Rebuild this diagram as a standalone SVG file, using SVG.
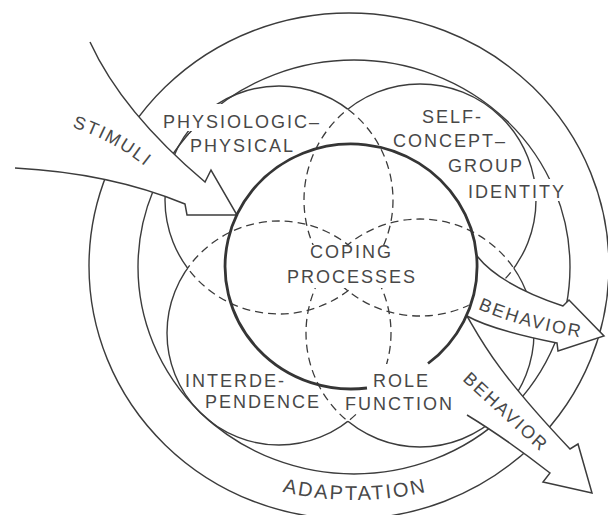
<svg xmlns="http://www.w3.org/2000/svg" width="608" height="515" viewBox="0 0 608 515">
<style>
.ln{fill:none;stroke:#3c3c3c;stroke-width:1.4}
.ds{fill:none;stroke:#3c3c3c;stroke-width:1.3;stroke-dasharray:8 5}
.thick{fill:none;stroke:#353535;stroke-width:2.8}
.arw{fill:#fff;stroke:#3c3c3c;stroke-width:1.5;stroke-linejoin:miter}
.t{font-family:"Liberation Sans",Arial,sans-serif;font-size:18px;letter-spacing:2px;fill:#484848}
.bg{fill:#fff}
</style>
<defs>
<mask id="mTL" maskUnits="userSpaceOnUse" x="0" y="0" width="608" height="515">
<rect width="608" height="515" fill="#fff"/>
<circle cx="420" cy="200" r="116"/><circle cx="279" cy="333" r="112"/><circle cx="420" cy="333" r="114"/>
</mask>
<mask id="mTR" maskUnits="userSpaceOnUse" x="0" y="0" width="608" height="515">
<rect width="608" height="515" fill="#fff"/>
<circle cx="279" cy="200" r="114"/><circle cx="279" cy="333" r="112"/><circle cx="420" cy="333" r="114"/>
</mask>
<mask id="mBL" maskUnits="userSpaceOnUse" x="0" y="0" width="608" height="515">
<rect width="608" height="515" fill="#fff"/>
<circle cx="279" cy="200" r="114"/><circle cx="420" cy="200" r="116"/><circle cx="420" cy="333" r="114"/>
</mask>
<mask id="mBR" maskUnits="userSpaceOnUse" x="0" y="0" width="608" height="515">
<rect width="608" height="515" fill="#fff"/>
<circle cx="279" cy="200" r="114"/><circle cx="420" cy="200" r="116"/><circle cx="279" cy="333" r="112"/>
</mask>
<clipPath id="kTL"><circle cx="420" cy="200" r="116"/><circle cx="279" cy="333" r="112"/><circle cx="420" cy="333" r="114"/></clipPath>
<clipPath id="kTR"><circle cx="279" cy="200" r="114"/><circle cx="279" cy="333" r="112"/><circle cx="420" cy="333" r="114"/></clipPath>
<clipPath id="kBL"><circle cx="279" cy="200" r="114"/><circle cx="420" cy="200" r="116"/><circle cx="420" cy="333" r="114"/></clipPath>
<clipPath id="kBR"><circle cx="279" cy="200" r="114"/><circle cx="420" cy="200" r="116"/><circle cx="279" cy="333" r="112"/></clipPath>
<path id="pAd" d="M 255 483.9 A 318 318 0 0 0 455 483.9"/>
<path id="pSt" d="M 72 127 Q 112 140 146 167"/>
<path id="pBe" d="M 478 309 Q 522 328 584 338"/>
</defs>

<g id="adaptation">
<ellipse class="ln" cx="349" cy="266" rx="260" ry="253"/>
<ellipse class="ln" cx="354" cy="267" rx="216" ry="207"/>
<text class="t" style="font-size:20px;letter-spacing:2.2px" text-anchor="middle"><textPath href="#pAd" startOffset="50%">ADAPTATION</textPath></text>
</g>

<g id="physiologic-physical">
<circle class="ln" cx="279" cy="200" r="114" mask="url(#mTL)"/>
<circle class="ds" cx="279" cy="200" r="114" clip-path="url(#kTL)"/>
<rect class="bg" x="161" y="104" width="160" height="27"/>
<rect class="bg" x="189" y="134" width="102" height="21"/>
<text class="t" x="163" y="128">PHYSIOLOGIC–</text>
<text class="t" x="190" y="152">PHYSICAL</text>
</g>

<g id="self-concept">
<circle class="ln" cx="420" cy="200" r="116" mask="url(#mTR)"/>
<circle class="ds" cx="420" cy="200" r="116" clip-path="url(#kTR)"/>
<rect class="bg" x="466" y="179" width="100" height="22"/>
<text class="t" x="422" y="123">SELF-</text>
<text class="t" x="393" y="147">CONCEPT–</text>
<text class="t" x="448" y="172">GROUP</text>
<text class="t" x="468" y="198">IDENTITY</text>
</g>

<g id="interdependence">
<circle class="ln" cx="279" cy="333" r="112" mask="url(#mBL)"/>
<circle class="ds" cx="279" cy="333" r="112" clip-path="url(#kBL)"/>
<rect class="bg" x="184" y="372" width="98" height="19"/>
<rect class="bg" x="204" y="391" width="113" height="21"/>
<text class="t" x="185" y="387">INTERDE-</text>
<text class="t" x="205" y="408">PENDENCE</text>
</g>

<g id="role-function">
<circle class="ln" cx="420" cy="333" r="114" mask="url(#mBR)"/>
<circle class="ds" cx="420" cy="333" r="114" clip-path="url(#kBR)"/>
<rect class="bg" x="371" y="364" width="62" height="27"/>
<rect class="bg" x="343" y="391" width="117" height="21"/>
<text class="t" x="373" y="387">ROLE</text>
<text class="t" x="345" y="410">FUNCTION</text>
</g>

<g id="connectors">
<path class="arw" d="M 90 42 Q 122 112 205 182 L 211 170 L 237 215 L 187 215 L 185 204 Q 110 173 15 168"/>
<text class="t"><textPath href="#pSt">STIMULI</textPath></text>
<path class="arw" d="M 477 256 Q 500 285 563 306 L 569 300 L 604 336 L 558 351 L 557 343 Q 492 330 467 316"/>
<text class="t"><textPath href="#pBe">BEHAVIOR</textPath></text>
<path class="arw" d="M 467 316 C 480 338 495 370 570 449 L 578 444 L 592 493 L 543 482 L 550 473 Q 505 438 467 415"/>
<text class="t" x="462" y="380" transform="rotate(42.4 462 380)">BEHAVIOR</text>
</g>

<g id="coping-processes">
<path class="thick" d="M 428 363.5 A 126 122.5 0 1 0 367 388"/>
<rect class="bg" x="306" y="245" width="90" height="19"/>
<rect class="bg" x="284" y="264" width="137" height="24"/>
<text class="t" x="310" y="258">COPING</text>
<text class="t" x="287" y="283">PROCESSES</text>
</g>
</svg>
